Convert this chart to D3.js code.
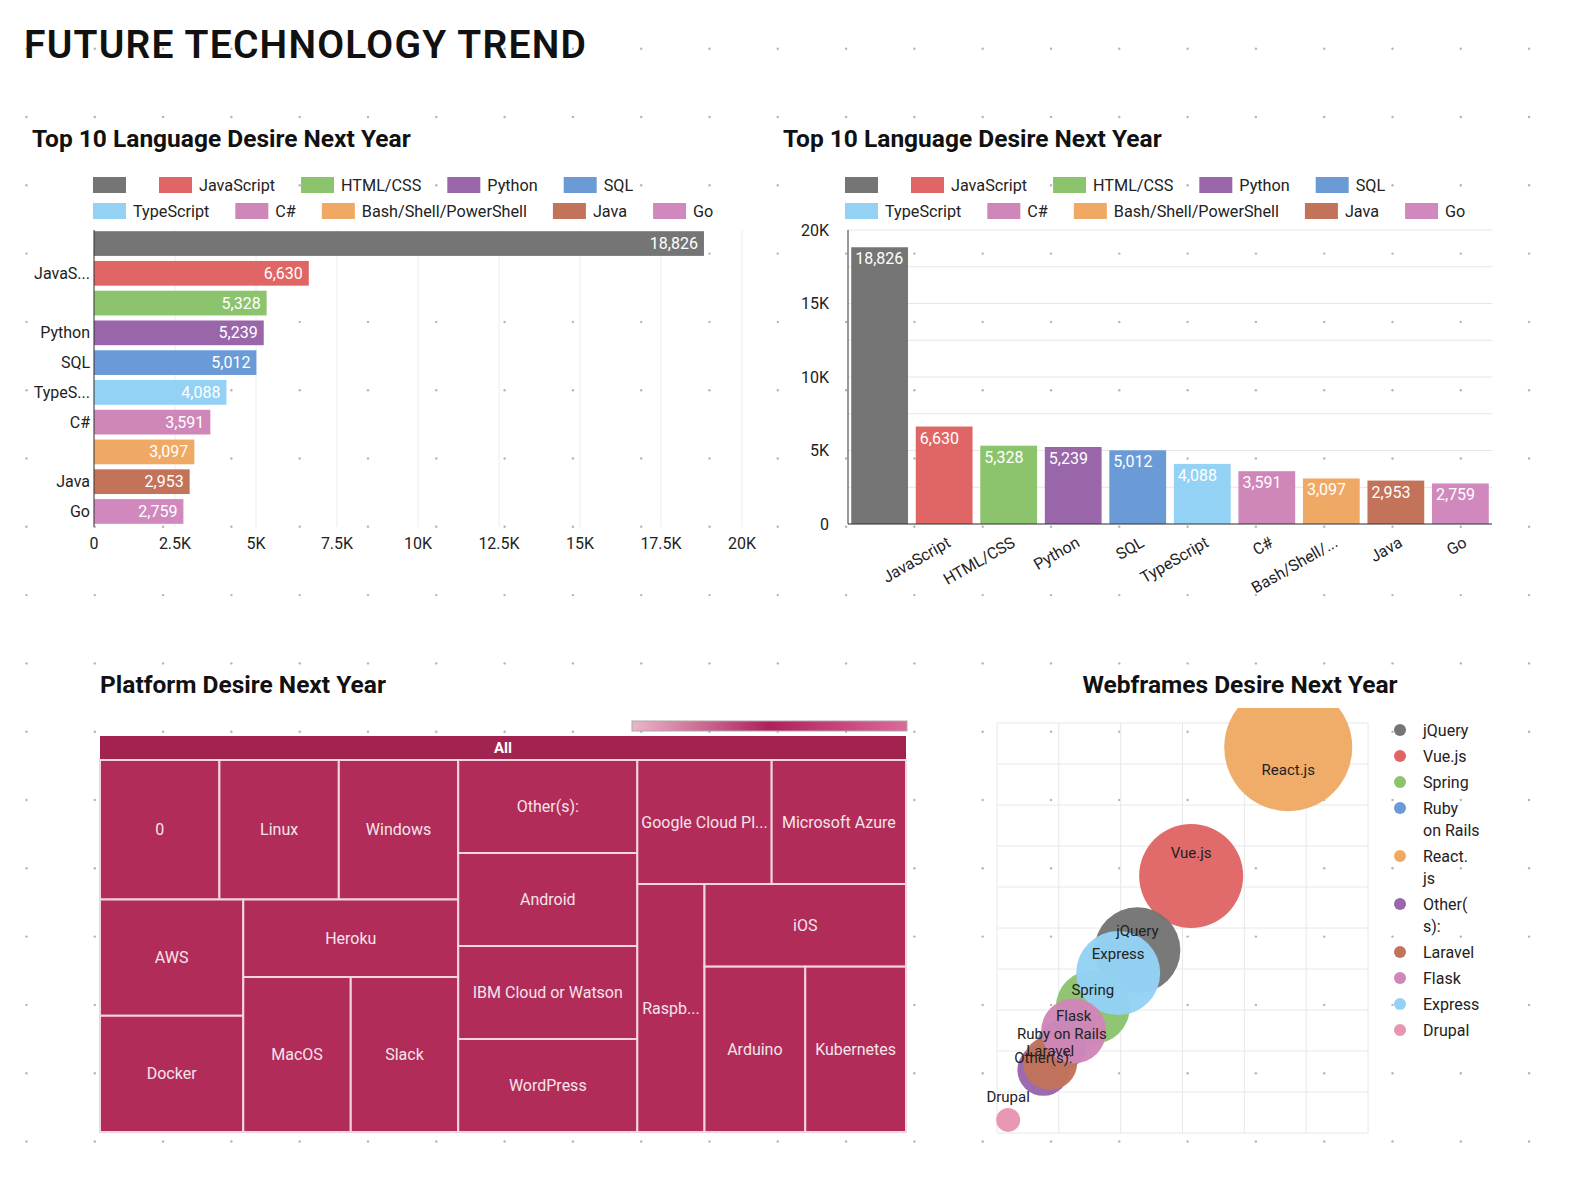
<!DOCTYPE html>
<html lang="en">
<head>
<meta charset="utf-8">
<title>Future Technology Trend</title>
<script src="https://d3js.org/d3.v7.min.js"></script>
<style>
  body { margin: 0; background: #fff; }
  text { font-family: Roboto, "Noto Sans", sans-serif; }
</style>
</head>
<body>
<script>
'use strict';

// data
var languages = ["", "JavaScript", "HTML/CSS", "Python", "SQL", "TypeScript", "C#", "Bash/Shell/PowerShell", "Java", "Go"];
var hbarLabels = ["", "JavaS...", "", "Python", "SQL", "TypeS...", "C#", "", "Java", "Go"];
var vbarLabels = ["", "JavaScript", "HTML/CSS", "Python", "SQL", "TypeScript", "C#", "Bash/Shell/...", "Java", "Go"];
var langValues = [18826, 6630, 5328, 5239, 5012, 4088, 3591, 3097, 2953, 2759];
var langColors = ["#757575", "#e06666", "#8cc46e", "#9966aa", "#6a9bd6", "#93d2f5", "#cf86b8", "#f0a964", "#c2735a", "#d088bd"];
var hTicks = [0, 2500, 5000, 7500, 10000, 12500, 15000, 17500, 20000];
var hTickLabels = ["0", "2.5K", "5K", "7.5K", "10K", "12.5K", "15K", "17.5K", "20K"];
var vTicks = [0, 5000, 10000, 15000, 20000];
var vTickLabels = ["0", "5K", "10K", "15K", "20K"];

var platforms = ["0", "Linux", "Windows", "AWS", "Docker", "Heroku", "MacOS", "Slack",
  "Other(s):", "Android", "IBM Cloud or Watson", "WordPress",
  "Google Cloud Platform", "Microsoft Azure", "Raspberry Pi", "iOS", "Arduino", "Kubernetes"];
var platformValues = [1, 1, 1, 1, 1, 1, 1, 1, 1, 1, 1, 1, 1, 1, 1, 1, 1, 1];

var frames = ["jQuery", "Vue.js", "Spring", "Ruby on Rails", "React.js", "Other(s):", "Laravel", "Flask", "Express", "Drupal"];
var frameX = [2.27, 3.14, 1.55, 1.05, 4.71, 0.75, 0.86, 1.24, 1.96, 0.18];
var frameY = [4.46, 6.27, 3.07, 2.15, 9.41, 1.54, 1.71, 2.49, 3.90, 0.32];
var frameSize = [1849, 2704, 1369, 625, 4096, 676, 729, 1056, 1764, 144];
var frameColors = ["#757575", "#e06666", "#8cc46e", "#6a9bd6", "#f0a964", "#9966aa", "#c2735a", "#cf86b8", "#93d2f5", "#e895b2"];
var frameLegend = [["jQuery"], ["Vue.js"], ["Spring"], ["Ruby", "on Rails"], ["React.", "js"], ["Other(", "s):"], ["Laravel"], ["Flask"], ["Express"], ["Drupal"]];

var W = 1570, H = 1193;
var svg = d3.select("body").append("svg").attr("width", W).attr("height", H);
var fmt = d3.format(",");

// dotted background
var step = 68.3;
var dots = [];
for (var gx = 26.5; gx < W; gx += step) {
  for (var gy = 48.7; gy < H; gy += step) dots.push([gx, gy]);
}
svg.append("g").selectAll("circle").data(dots).enter().append("circle")
  .attr("cx", function(d){ return d[0]; }).attr("cy", function(d){ return d[1]; })
  .attr("r", 1.2).attr("fill", "#b5b5b5");

svg.append("text").attr("x", 24).attr("y", 58)
  .attr("font-family", "'Noto Sans', sans-serif").attr("font-weight", 600)
  .attr("font-size", 39).attr("letter-spacing", 1.2).attr("fill", "#111").text("FUTURE TECHNOLOGY TREND");

function title(x, y, t, anchor) {
  svg.append("text").attr("x", x).attr("y", y).attr("font-size", 24.5)
    .attr("font-weight", 700).attr("fill", "#111")
    .attr("text-anchor", anchor || "start").text(t);
}

function langLegend(x0) {
  var g = svg.append("g");
  var rows = [[0, 5], [5, 10]];
  rows.forEach(function(r, ri) {
    var x = x0, y = 185 + ri * 26;
    for (var i = r[0]; i < r[1]; i++) {
      g.append("rect").attr("x", x).attr("y", y - 8).attr("width", 33).attr("height", 16)
        .attr("fill", langColors[i]);
      var t = g.append("text").attr("x", x + 40).attr("y", y + 5.5)
        .attr("font-size", 16.2).attr("fill", "#222").text(languages[i]);
      x += 40 + t.node().getComputedTextLength() + 26;
    }
  });
}

// ---- top-left horizontal bars
title(32, 147, "Top 10 Language Desire Next Year");
langLegend(93);
var hx = d3.scaleLinear().domain([0, 20000]).range([94, 742]);
var hy = d3.scaleBand().domain(d3.range(10)).range([230, 525]).paddingInner(0.17).paddingOuter(0.04);
var hg = svg.append("g");
hg.selectAll("line.grid").data(hTicks).enter().append("line")
  .attr("x1", hx).attr("x2", hx).attr("y1", 230).attr("y2", 527)
  .attr("stroke", "#ececec");
hg.selectAll("rect").data(langValues).enter().append("rect")
  .attr("x", hx(0)).attr("y", function(d, i){ return hy(i); })
  .attr("width", function(d){ return hx(d) - hx(0); }).attr("height", hy.bandwidth())
  .attr("fill", function(d, i){ return langColors[i]; });
hg.append("line").attr("x1", 94).attr("x2", 94).attr("y1", 230).attr("y2", 527).attr("stroke", "#333");
hg.selectAll("text.val").data(langValues).enter().append("text")
  .attr("x", function(d){ return hx(d) - 6; }).attr("y", function(d, i){ return hy(i) + hy.bandwidth() / 2 + 5.5; })
  .attr("text-anchor", "end").attr("font-size", 16).attr("fill", "#fff").text(fmt);
hg.selectAll("text.cat").data(hbarLabels).enter().append("text")
  .attr("x", 90).attr("y", function(d, i){ return hy(i) + hy.bandwidth() / 2 + 5.5; })
  .attr("text-anchor", "end").attr("font-size", 16).attr("fill", "#222").text(function(d){ return d; });
hg.selectAll("text.tick").data(hTicks).enter().append("text")
  .attr("x", hx).attr("y", 549).attr("text-anchor", "middle")
  .attr("font-size", 16).attr("fill", "#222").text(function(d, i){ return hTickLabels[i]; });

// ---- top-right vertical bars
title(783, 147, "Top 10 Language Desire Next Year");
langLegend(845);
var vx = d3.scaleBand().domain(d3.range(10)).range([848, 1492]).paddingInner(0.12).paddingOuter(0.05);
var vy = d3.scaleLinear().domain([0, 20000]).range([524, 230]);
var vg = svg.append("g");
vg.selectAll("line.grid").data(d3.range(0, 20001, 2500)).enter().append("line")
  .attr("x1", 848).attr("x2", 1492).attr("y1", vy).attr("y2", vy).attr("stroke", "#e6e6e6");
vg.selectAll("rect").data(langValues).enter().append("rect")
  .attr("x", function(d, i){ return vx(i); }).attr("y", vy)
  .attr("width", vx.bandwidth()).attr("height", function(d){ return vy(0) - vy(d); })
  .attr("fill", function(d, i){ return langColors[i]; });
vg.append("line").attr("x1", 848).attr("x2", 1492).attr("y1", 524).attr("y2", 524).attr("stroke", "#333");
vg.append("line").attr("x1", 848).attr("x2", 848).attr("y1", 230).attr("y2", 524).attr("stroke", "#333");
vg.selectAll("text.val").data(langValues).enter().append("text")
  .attr("x", function(d, i){ return vx(i) + 4; }).attr("y", function(d){ return vy(d) + 17; })
  .attr("font-size", 16).attr("fill", "#fff").text(fmt);
vg.selectAll("text.tick").data(vTicks).enter().append("text")
  .attr("x", 829).attr("y", function(d){ return vy(d) + 5.5; }).attr("text-anchor", "end")
  .attr("font-size", 16).attr("fill", "#222").text(function(d, i){ return vTickLabels[i]; });
vg.selectAll("text.cat").data(vbarLabels).enter().append("text")
  .attr("transform", function(d, i){ return "translate(" + (vx(i) + vx.bandwidth() / 2 + 2) + ",536) rotate(-30)"; })
  .attr("text-anchor", "end").attr("dy", "0.7em")
  .attr("font-size", 16).attr("fill", "#222").text(function(d){ return d; });

// ---- treemap
title(100, 693, "Platform Desire Next Year");
var defs = svg.append("defs");
var grad = defs.append("linearGradient").attr("id", "cbar");
[["0%", "#eab6cc"], ["50%", "#b0205a"], ["100%", "#dc6a98"]].forEach(function(s){
  grad.append("stop").attr("offset", s[0]).attr("stop-color", s[1]);
});
svg.append("rect").attr("x", 632).attr("y", 721).attr("width", 275).attr("height", 10)
  .attr("fill", "url(#cbar)").attr("stroke", "#aaa");

function leaf(i){ return { name: platforms[i], value: platformValues[i] }; }
function grp(arr){ return { children: arr }; }
var tree = grp([
  grp([grp([leaf(0), leaf(1), leaf(2)]),
       grp([grp([leaf(3), leaf(4)]), grp([leaf(5), grp([leaf(6), leaf(7)])])])]),
  grp([leaf(8), leaf(9), leaf(10), leaf(11)]),
  grp([grp([leaf(12), leaf(13)]),
       grp([leaf(14), grp([leaf(15), grp([leaf(16), leaf(17)])])])])
]);
var root = d3.hierarchy(tree).sum(function(d){ return d.value || 0; });
d3.treemap()
  .size([806, 396])
  .paddingTop(function(d){ return d.depth === 0 ? 24 : 0; })
  .tile(function(node, x0, y0, x1, y1){
    (x1 - x0 > y1 - y0 ? d3.treemapDice : d3.treemapSlice)(node, x0, y0, x1, y1);
  })(root);
var tg = svg.append("g").attr("transform", "translate(100,736)");
tg.append("rect").attr("width", 806).attr("height", 24).attr("fill", "#a2234f");
tg.append("text").attr("x", 403).attr("y", 17).attr("text-anchor", "middle")
  .attr("font-size", 15).attr("font-weight", 700).attr("fill", "#fff").text("All");
var leaves = tg.selectAll("g.leaf").data(root.leaves()).enter().append("g");
leaves.append("rect")
  .attr("x", function(d){ return d.x0; }).attr("y", function(d){ return d.y0; })
  .attr("width", function(d){ return d.x1 - d.x0; }).attr("height", function(d){ return d.y1 - d.y0; })
  .attr("fill", "#b22c5a").attr("stroke", "#f2d6df").attr("stroke-width", 2);
leaves.append("text")
  .attr("x", function(d){ return (d.x0 + d.x1) / 2; }).attr("y", function(d){ return (d.y0 + d.y1) / 2 + 5.5; })
  .attr("text-anchor", "middle").attr("font-size", 16).attr("fill", "#f4e4ea")
  .text(function(d){ return d.data.name; })
  .each(function(d){
    var el = d3.select(this), max = d.x1 - d.x0 - 2, s = d.data.name;
    if (this.getComputedTextLength() <= max) return;
    while (s.length > 1) {
      s = s.slice(0, -1);
      el.text(s + "...");
      if (this.getComputedTextLength() <= max) break;
    }
  });

// ---- bubbles
title(1240, 693, "Webframes Desire Next Year", "middle");
defs.append("clipPath").attr("id", "bclip").append("rect")
  .attr("x", 960).attr("y", 708).attr("width", 420).attr("height", 460);
var bx = d3.scaleLinear().domain([0, 6]).range([997, 1368]);
var by = d3.scaleLinear().domain([0, 10]).range([1133, 723]);
var br = d3.scaleSqrt().domain([0, 4096]).range([0, 64]);
var bg = svg.append("g");
bg.selectAll("line.v").data(d3.range(7)).enter().append("line")
  .attr("x1", bx).attr("x2", bx).attr("y1", 723).attr("y2", 1133).attr("stroke", "#e8e8e8");
bg.selectAll("line.h").data(d3.range(11)).enter().append("line")
  .attr("x1", 997).attr("x2", 1368).attr("y1", by).attr("y2", by).attr("stroke", "#e8e8e8");
var order = [4, 1, 0, 2, 8, 3, 5, 6, 7, 9];
bg.append("g").attr("clip-path", "url(#bclip)")
  .selectAll("circle").data(order).enter().append("circle")
  .attr("cx", function(i){ return bx(frameX[i]); }).attr("cy", function(i){ return by(frameY[i]); })
  .attr("r", function(i){ return br(frameSize[i]); })
  .attr("fill", function(i){ return frameColors[i]; }).attr("opacity", 0.97);
var labelShift = { "React.js": 0.35, "Drupal": -1.9 };
bg.selectAll("text").data(order).enter().append("text")
  .attr("x", function(i){ return bx(frameX[i]); })
  .attr("y", function(i){
    var r = br(frameSize[i]);
    var k = labelShift[frames[i]] !== undefined ? labelShift[frames[i]] : -0.45;
    return by(frameY[i]) + k * r + 5;
  })
  .attr("text-anchor", "middle").attr("font-size", 15).attr("fill", "#222")
  .text(function(i){ return frames[i]; });

var lg = svg.append("g");
var ly = 730;
frameLegend.forEach(function(lines, i){
  lg.append("circle").attr("cx", 1400).attr("cy", ly).attr("r", 6).attr("fill", frameColors[i]);
  lines.forEach(function(l, j){
    lg.append("text").attr("x", 1423).attr("y", ly + 5.5 + j * 22)
      .attr("font-size", 16).attr("fill", "#222").text(l);
  });
  ly += 26 + (lines.length - 1) * 22;
});
</script>
</body>
</html>
